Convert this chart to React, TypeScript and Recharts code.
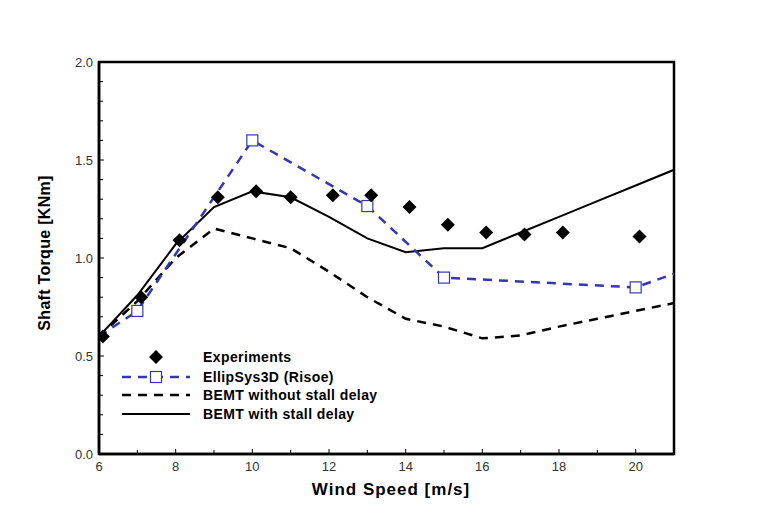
import React from 'react';
import { ComposedChart, Line, Scatter, XAxis, YAxis, ReferenceArea } from 'recharts';

// measured torque (diamonds)
const expSpeed = [6.1, 7.1, 8.1, 9.1, 10.1, 11.0, 12.1, 13.1, 14.1, 15.1, 16.1, 17.1, 18.1, 20.1];
const expTorque = [0.60, 0.80, 1.09, 1.31, 1.34, 1.31, 1.32, 1.32, 1.26, 1.17, 1.13, 1.12, 1.13, 1.11];

// EllipSys3D (Risoe), squares only where marked
const ellipSpeed = [6, 7, 10, 13, 15, 20, 21];
const ellipTorque = [0.60, 0.73, 1.60, 1.265, 0.90, 0.85, 0.92];
const ellipMarked = [false, true, true, true, true, true, false];

// BEMT
const bemtSpeed = [6, 7, 8, 9, 10, 11, 12, 13, 14, 15, 16, 17, 18, 19, 20, 21];
const bemtNoStall = [0.60, 0.78, 1.00, 1.15, 1.10, 1.05, 0.93, 0.80, 0.69, 0.65, 0.59, 0.605, 0.65, 0.69, 0.73, 0.77];
const bemtStall = [0.60, 0.81, 1.07, 1.26, 1.34, 1.31, 1.21, 1.10, 1.03, 1.05, 1.05, 1.13, 1.21, 1.29, 1.37, 1.45];

const xTicks = [6, 7, 8, 9, 10, 11, 12, 13, 14, 15, 16, 17, 18, 19, 20, 21];
const yTicks = [0, 0.1, 0.2, 0.3, 0.4, 0.5, 0.6, 0.7, 0.8, 0.9, 1.0, 1.1, 1.2, 1.3, 1.4, 1.5, 1.6, 1.7, 1.8, 1.9, 2.0];

const expData = expSpeed.map((x, i) => ({ x, y: expTorque[i] }));
const ellipData = ellipSpeed.map((x, i) => ({ x, y: ellipTorque[i], m: ellipMarked[i] }));
const noStallData = bemtSpeed.map((x, i) => ({ x, y: bemtNoStall[i] }));
const stallData = bemtSpeed.map((x, i) => ({ x, y: bemtStall[i] }));

const FONT = 'Arial, "Liberation Sans", sans-serif';
const BLUE = '#3636b0';

const XTick = (props: any) => {
  const { x, y, payload } = props;
  const v = payload.value;
  const major = v % 2 === 0;
  return (
    <g>
      <line x1={x} y1={y} x2={x} y2={y - (major ? 5 : 4)} stroke="#000" strokeWidth={1} />
      {major && v < 21 && (
        <text x={x} y={y + 17} textAnchor="middle" fontSize={13} fill="#333" fontFamily={FONT}>{v}</text>
      )}
    </g>
  );
};

const YTick = (props: any) => {
  const { x, y, payload } = props;
  const v = payload.value;
  const major = Math.abs(v * 2 - Math.round(v * 2)) < 1e-6;
  return (
    <g>
      <line x1={x} y1={y} x2={x + (major ? 5 : 4)} y2={y} stroke="#000" strokeWidth={1} />
      {major && (
        <text x={x - 6} y={y + 5} textAnchor="end" fontSize={13} fill="#333" fontFamily={FONT}>{v.toFixed(1)}</text>
      )}
    </g>
  );
};

const Diamond = (props: any) => {
  const { cx, cy } = props;
  const r = 7;
  return <polygon points={`${cx},${cy - r} ${cx + r},${cy} ${cx},${cy + r} ${cx - r},${cy}`} fill="#000" />;
};

const ellipDot = (props: any) => {
  const { cx, cy, payload, index } = props;
  if (!payload.m) return <g key={`e-${index}`} />;
  return <rect key={`e-${index}`} x={cx - 5.5} y={cy - 5.5} width={11} height={11} fill="#fff" stroke={BLUE} strokeWidth={1.2} />;
};

const LegendBox = () => {
  const rows = [12, 32, 50, 69];
  const tx = 93;
  const ts = { fontSize: 14, fontWeight: 'bold' as const, fontFamily: FONT, fill: '#000', letterSpacing: 0.4 };
  return (
    <svg width={300} height={80}>
      <polygon points={`46,${rows[0] - 7} 53,${rows[0]} 46,${rows[0] + 7} 39,${rows[0]}`} fill="#000" />
      <text x={tx} y={rows[0] + 5} {...ts}>Experiments</text>
      <line x1={12} y1={rows[1]} x2={80} y2={rows[1]} stroke={BLUE} strokeWidth={2.5} strokeDasharray="9 7" />
      <rect x={40.5} y={rows[1] - 5.5} width={11} height={11} fill="#fff" stroke={BLUE} strokeWidth={1.2} />
      <text x={tx} y={rows[1] + 5} {...ts}>EllipSys3D (Risoe)</text>
      <line x1={12} y1={rows[2]} x2={80} y2={rows[2]} stroke="#000" strokeWidth={2.5} strokeDasharray="9 7" />
      <text x={tx} y={rows[2] + 5} {...ts}>BEMT without stall delay</text>
      <line x1={12} y1={rows[3]} x2={80} y2={rows[3]} stroke="#000" strokeWidth={2} />
      <text x={tx} y={rows[3] + 5} {...ts}>BEMT with stall delay</text>
    </svg>
  );
};

export default function App() {
  return (
    <div style={{ position: 'absolute', left: 0, top: 0, width: 768, height: 513, background: '#fff' }}>
      <ComposedChart width={768} height={513} margin={{ top: 62, right: 94, bottom: 19, left: 49 }}>
        <XAxis
          dataKey="x"
          type="number"
          domain={[6, 21]}
          ticks={xTicks}
          interval={0}
          allowDataOverflow
          height={40}
          tickSize={0}
          tickMargin={0}
          tick={<XTick />}
          axisLine={{ stroke: '#000', strokeWidth: 2.5 }}
          tickLine={false}
        />
        <YAxis
          dataKey="y"
          type="number"
          domain={[0, 2]}
          ticks={yTicks}
          interval={0}
          allowDataOverflow
          width={50}
          tickSize={0}
          tickMargin={0}
          tick={<YTick />}
          axisLine={{ stroke: '#000', strokeWidth: 2.5 }}
          tickLine={false}
        />
        <ReferenceArea x1={6} x2={21} y1={0} y2={2} fill="none" fillOpacity={0} stroke="#000" strokeWidth={2.5} />
        <Line data={noStallData} dataKey="y" type="linear" stroke="#000" strokeWidth={2.5} strokeDasharray="9 7" dot={false} isAnimationActive={false} />
        <Line data={stallData} dataKey="y" type="linear" stroke="#000" strokeWidth={2} dot={false} isAnimationActive={false} />
        <Line data={ellipData} dataKey="y" type="linear" stroke={BLUE} strokeWidth={2.5} strokeDasharray="9 7" dot={ellipDot} activeDot={false} isAnimationActive={false} />
        <Scatter data={expData} dataKey="y" fill="#000" shape={<Diamond />} isAnimationActive={false} />
      </ComposedChart>
      <div style={{ position: 'absolute', left: 110, top: 345, width: 300, height: 80 }}>
        <LegendBox />
      </div>
      <div
        style={{
          position: 'absolute', left: 45, top: 253, transform: 'translate(-50%, -50%) rotate(-90deg)',
          fontFamily: FONT, fontWeight: 'bold', fontSize: 16, letterSpacing: 0.3, whiteSpace: 'nowrap', color: '#000',
        }}
      >
        Shaft Torque [KNm]
      </div>
      <div
        style={{
          position: 'absolute', left: 391, top: 490, transform: 'translate(-50%, -50%)',
          fontFamily: FONT, fontWeight: 'bold', fontSize: 17, letterSpacing: 1, whiteSpace: 'nowrap', color: '#000',
        }}
      >
        Wind Speed [m/s]
      </div>
    </div>
  );
}
